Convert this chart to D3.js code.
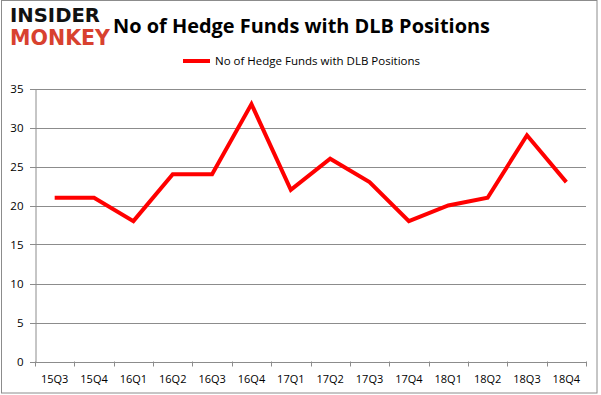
<!DOCTYPE html>
<html>
<head>
<meta charset="utf-8">
<script src="https://cdn.jsdelivr.net/npm/d3@7"></script>
<style>
  body { margin: 0; background: #fff; }
  svg { display: block; }
</style>
</head>
<body>
<svg></svg>
<script>
let quarters = ['15Q3', '15Q4', '16Q1', '16Q2', '16Q3', '16Q4', '17Q1', '17Q2', '17Q3', '17Q4', '18Q1', '18Q2', '18Q3', '18Q4'];
let funds = [21, 21, 18, 24, 24, 33, 22, 26, 23, 18, 20, 21, 29, 23];
let yTicks = [0, 5, 10, 15, 20, 25, 30, 35];

let width = 601;
let height = 395;
let plotLeft = 35, plotRight = 586, plotTop = 88.5, plotBottom = 361.5;
let font = "'Open Sans', sans-serif";

let svg = d3.select('svg').attr('width', width).attr('height', height);

// outer frame
svg.append('rect')
    .attr('x', 1.5).attr('y', 0.5)
    .attr('width', 595.5).attr('height', 392.5)
    .attr('fill', 'none').attr('stroke', '#8c8c8c').attr('stroke-width', 1);

let xScale = d3.scaleBand().domain(quarters).range([plotLeft, plotRight]);
let yScale = d3.scaleLinear().domain([0, 35]).range([plotBottom, plotTop]);

// gridlines
svg.append('g')
    .selectAll('line')
    .data(yTicks)
    .enter()
    .append('line')
    .attr('x1', plotLeft - 5).attr('x2', plotRight)
    .attr('y1', d => Math.round(yScale(d)) + 0.5)
    .attr('y2', d => Math.round(yScale(d)) + 0.5)
    .attr('stroke', '#8c8c8c');

// y axis
let yAxis = d3.axisLeft(yScale).tickValues(yTicks).tickSize(0).tickPadding(12);
svg.append('g')
    .attr('transform', 'translate(' + (plotLeft + 0.5) + ',0)')
    .call(yAxis)
    .call(g => g.select('.domain').attr('stroke', '#8c8c8c'))
    .selectAll('text')
    .attr('font-family', font).attr('font-size', 11.5).attr('fill', '#000');

// x axis
let xAxis = d3.axisBottom(xScale).tickSize(0).tickPadding(13);
let xg = svg.append('g')
    .attr('transform', 'translate(0,' + (plotBottom + 0.5) + ')')
    .call(xAxis);
xg.select('.domain').attr('stroke', '#8c8c8c');
xg.selectAll('text').attr('font-family', font).attr('font-size', 11).attr('fill', '#000');

// x tick marks between categories
svg.append('g')
    .selectAll('line')
    .data(quarters.concat(['end']))
    .enter()
    .append('line')
    .attr('x1', (d, i) => Math.round(plotLeft + i * xScale.step()) + 0.5)
    .attr('x2', (d, i) => Math.round(plotLeft + i * xScale.step()) + 0.5)
    .attr('y1', plotBottom).attr('y2', plotBottom + 5)
    .attr('stroke', '#8c8c8c');

// series line
let line = d3.line()
    .x((d, i) => xScale(quarters[i]) + xScale.bandwidth() / 2)
    .y(d => yScale(d));

svg.append('path')
    .datum(funds)
    .attr('d', line)
    .attr('fill', 'none')
    .attr('stroke', '#ff0000')
    .attr('stroke-width', 4)
    .attr('stroke-linejoin', 'miter');

// title
svg.append('text')
    .attr('x', 113).attr('y', 33)
    .attr('font-family', font).attr('font-weight', 'bold').attr('font-size', 20)
    .attr('textLength', 377).attr('lengthAdjust', 'spacingAndGlyphs')
    .text('No of Hedge Funds with DLB Positions');

// legend
svg.append('line')
    .attr('x1', 183).attr('x2', 210).attr('y1', 61).attr('y2', 61)
    .attr('stroke', '#ff0000').attr('stroke-width', 4);
svg.append('text')
    .attr('x', 215).attr('y', 65)
    .attr('font-family', font).attr('font-size', 11)
    .attr('textLength', 205).attr('lengthAdjust', 'spacingAndGlyphs')
    .text('No of Hedge Funds with DLB Positions');

// logo
svg.append('text')
    .attr('x', 10).attr('y', 22)
    .attr('font-family', "'DejaVu Sans', sans-serif").attr('font-weight', 'bold').attr('font-size', 20)
    .attr('textLength', 90).attr('lengthAdjust', 'spacingAndGlyphs')
    .attr('fill', '#111')
    .text('INSIDER');
svg.append('text')
    .attr('x', 10).attr('y', 45)
    .attr('font-family', "'DejaVu Sans', sans-serif").attr('font-weight', 'bold').attr('font-size', 21)
    .attr('textLength', 100).attr('lengthAdjust', 'spacingAndGlyphs')
    .attr('fill', '#d8412f')
    .text('MONKEY');
</script>
</body>
</html>
